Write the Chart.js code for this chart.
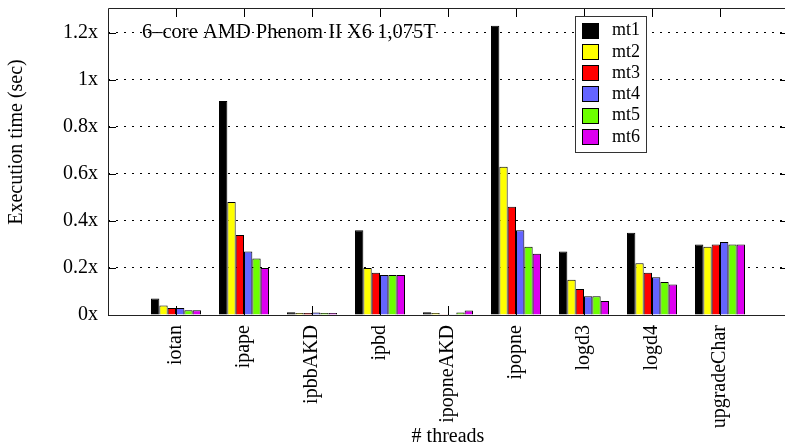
<!DOCTYPE html>
<html lang="en">
<head>
  <meta charset="UTF-8">
  <title>Execution time per thread count</title>
  <script src="https://cdn.jsdelivr.net/npm/chart.js"></script>
  <style>
    html, body {
      margin: 0;
      padding: 0;
      background: #ffffff;
      overflow: hidden;
    }
    #marco {
      width: 785px;
      height: 446px;
      overflow: hidden;
    }
    canvas {
      display: block;
    }
  </style>
</head>
<body>

<div id="marco">
  <canvas id="grafico" width="790" height="446"></canvas>
</div>

<script>
// datos
const categorias = ['iotan', 'ipape', 'ipbbAKD', 'ipbd', 'ipopneAKD', 'ipopne', 'logd3', 'logd4', 'upgradeChar'];
const mt1 = [0.07, 0.91, 0.012, 0.36, 0.012, 1.23, 0.27, 0.35, 0.30];
const mt2 = [0.04, 0.48, 0.009, 0.20, 0.009, 0.63, 0.15, 0.22, 0.29];
const mt3 = [0.03, 0.34, 0.009, 0.18, 0.001, 0.46, 0.11, 0.18, 0.30];
const mt4 = [0.03, 0.27, 0.011, 0.17, 0.001, 0.36, 0.08, 0.16, 0.31];
const mt5 = [0.02, 0.24, 0.009, 0.17, 0.011, 0.29, 0.08, 0.14, 0.30];
const mt6 = [0.02, 0.20, 0.009, 0.17, 0.019, 0.26, 0.06, 0.13, 0.30];
const series = ['mt1', 'mt2', 'mt3', 'mt4', 'mt5', 'mt6'];
const colores = ['#000000', '#ffff00', '#ff0000', '#6464ff', '#6cff00', '#dd00f0'];
const yTicks = [0, 0.2, 0.4, 0.6, 0.8, 1, 1.2];
const titulo = '6\u2013core AMD Phenom II X6 1,075T';

const FUENTE = "'Liberation Serif', 'Times New Roman', serif";

// un hueco vacio a cada lado, como en el original
const etiquetas = ['', ...categorias, ''];
const pad = arr => [null, ...arr, null];
const valores = [mt1, mt2, mt3, mt4, mt5, mt6];

const decor = {
  id: 'decor',
  beforeDatasetsDraw(chart) {
    const { ctx, chartArea: a, scales: { x, y } } = chart;
    ctx.save();
    ctx.strokeStyle = '#000';
    ctx.lineWidth = 1;
    ctx.beginPath();
    x.ticks.forEach((t, i) => {
      if (!etiquetas[i]) return;
      const px = Math.round(x.getPixelForTick(i)) + 0.5;
      ctx.moveTo(px, a.bottom); ctx.lineTo(px, a.bottom - 9);
      ctx.moveTo(px, a.top); ctx.lineTo(px, a.top + 9);
    });
    y.ticks.forEach((t, i) => {
      const py = Math.round(y.getPixelForTick(i)) + 0.5;
      ctx.moveTo(a.left, py); ctx.lineTo(a.left + 8, py);
      ctx.moveTo(a.right, py); ctx.lineTo(a.right - 8, py);
    });
    ctx.stroke();
    ctx.restore();
  },
  afterDatasetsDraw(chart) {
    const { ctx, chartArea: a } = chart;
    ctx.save();
    // marco: arriba, izquierda y abajo (el lado derecho cae fuera de la ventana)
    ctx.strokeStyle = '#222';
    ctx.lineWidth = 1;
    const l = Math.round(a.left) + 0.5, t = Math.round(a.top) + 0.5, b = Math.round(a.bottom) + 0.5;
    ctx.beginPath();
    ctx.moveTo(a.right, t); ctx.lineTo(l, t); ctx.lineTo(l, b); ctx.lineTo(a.right, b);
    ctx.stroke();

    // texto dentro del grafico
    ctx.fillStyle = '#000';
    ctx.font = '20.5px ' + FUENTE;
    ctx.textBaseline = 'middle';
    ctx.textAlign = 'left';
    ctx.fillText(titulo, a.left + 34, 33);

    // leyenda
    const lx = 575, ly = 16, lw = 71, lh = 136;
    ctx.fillStyle = '#fff';
    ctx.fillRect(lx, ly, lw, lh);
    ctx.strokeStyle = '#333';
    ctx.strokeRect(lx + 0.5, ly + 0.5, lw, lh);
    ctx.font = '18px ' + FUENTE;
    chart.data.datasets.forEach((ds, i) => {
      const cy = ly + 14.5 + i * 21.3;
      ctx.fillStyle = ds.backgroundColor;
      ctx.fillRect(582, Math.round(cy - 8), 17, 16);
      ctx.strokeStyle = '#000';
      ctx.strokeRect(582.5, Math.round(cy - 8) + 0.5, 16, 15);
      ctx.fillStyle = '#000';
      ctx.fillText(ds.label, 612, cy);
    });

    // titulos de ejes
    ctx.font = '20px ' + FUENTE;
    ctx.textAlign = 'center';
    ctx.fillText('# threads', (a.left + a.right) / 2, 437);
    ctx.translate(17, 142);
    ctx.rotate(-Math.PI / 2);
    ctx.fillText('Execution time (sec)', 0, 0);
    ctx.restore();
  }
};

const ctx = document.getElementById('grafico').getContext('2d');

new Chart(ctx, {
  type: 'bar',
  data: {
    labels: etiquetas,
    datasets: series.map((nombre, i) => ({
      label: nombre,
      data: pad(valores[i]),
      backgroundColor: colores[i],
      borderColor: '#000',
      borderWidth: 1,
      borderSkipped: 'bottom',
      categoryPercentage: 0.735,
      barPercentage: 1.0
    }))
  },
  options: {
    responsive: false,
    animation: false,
    layout: { padding: { top: 8, right: 2, left: 0, bottom: 0 } },
    plugins: {
      legend: { display: false },
      tooltip: { enabled: false }
    },
    scales: {
      x: {
        offset: false,
        grid: { display: false, drawTicks: false },
        border: { display: false },
        ticks: {
          autoSkip: false,
          minRotation: 90,
          maxRotation: 90,
          padding: 10,
          color: '#000',
          font: { family: FUENTE, size: 20 }
        },
        afterFit: s => {
          s.height = 131;
          s.paddingLeft = 0; s.paddingRight = 0;
        }
      },
      y: {
        min: 0,
        max: 1.305,
        grid: {
          drawTicks: false,
          color: c => (c.tick && c.tick.value === 0) ? 'rgba(0,0,0,0)' : '#000',
          lineWidth: 1
        },
        border: { display: false, dash: [2, 6] },
        afterBuildTicks: s => { s.ticks = yTicks.map(v => ({ value: v })); },
        ticks: {
          padding: 10,
          color: '#000',
          font: { family: FUENTE, size: 20 },
          callback: v => (Math.round(v * 10) / 10) + 'x'
        },
        afterFit: s => {
          s.width = 108;
          s.paddingTop = 0; s.paddingBottom = 0;
        }
      }
    }
  },
  plugins: [decor]
});
</script>

</body>
</html>
